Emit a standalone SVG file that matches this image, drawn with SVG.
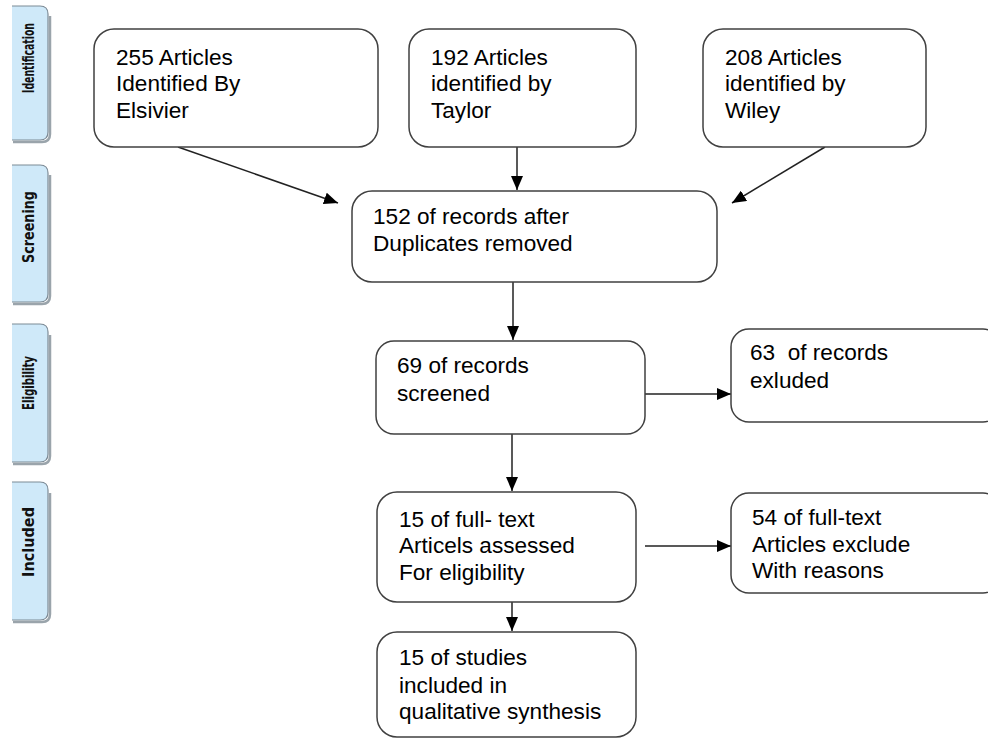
<svg xmlns="http://www.w3.org/2000/svg" width="988" height="738" viewBox="0 0 988 738">
<style>
.box{fill:#fff;stroke:#404040;stroke-width:1.5}
.t{font-family:"Liberation Sans",Arial,sans-serif;font-size:22.6px;fill:#000}
.tab{fill:#cfe9f9;stroke:#7d8b96;stroke-width:1.2}
.tabsh{fill:none;stroke:#9aa4ab;stroke-width:2.5}
.tl{font-family:"Liberation Sans Narrow","DejaVu Sans Condensed","Liberation Sans",sans-serif;font-weight:bold;font-size:16px;fill:#111}
.c{stroke:#222;stroke-width:1.5;fill:none;marker-end:url(#ah)}
</style>
<defs>
<marker id="ah" markerUnits="userSpaceOnUse" markerWidth="14" markerHeight="12" viewBox="0 0 14 12" refX="14" refY="6" orient="auto">
<path d="M0,0 L14,6 L0,12 z" fill="#000"/>
</marker>
</defs>
<rect width="988" height="738" fill="#fff"/>

<g id="tab-identification">
<path class="tabsh" d="M13,142 H42 Q50,142 50,134 V16"/>
<path class="tab" d="M12,6 H40 Q48,6 48,14 V132 Q48,140 40,140 H12"/>
<text class="tl" transform="translate(34,58) rotate(-90)" text-anchor="middle" textLength="70" lengthAdjust="spacingAndGlyphs">Identification</text>
</g>
<g id="tab-screening">
<path class="tabsh" d="M13,304 H42 Q50,304 50,296 V175"/>
<path class="tab" d="M12,165 H40 Q48,165 48,173 V294 Q48,302 40,302 H12"/>
<text class="tl" transform="translate(34,227) rotate(-90)" text-anchor="middle" textLength="72" lengthAdjust="spacingAndGlyphs">Screening</text>
</g>
<g id="tab-eligibility">
<path class="tabsh" d="M13,464 H42 Q50,464 50,456 V335"/>
<path class="tab" d="M12,324 H40 Q48,324 48,332 V454 Q48,462 40,462 H12"/>
<text class="tl" transform="translate(34,383) rotate(-90)" text-anchor="middle" textLength="54" lengthAdjust="spacingAndGlyphs">Eligibility</text>
</g>
<g id="tab-included">
<path class="tabsh" d="M13,622 H42 Q50,622 50,614 V493"/>
<path class="tab" d="M12,482 H40 Q48,482 48,490 V612 Q48,620 40,620 H12"/>
<text class="tl" transform="translate(34,542) rotate(-90)" text-anchor="middle" textLength="70" lengthAdjust="spacingAndGlyphs">Included</text>
</g>

<g id="connectors">
<line class="c" x1="178" y1="147" x2="338" y2="203"/>
<line class="c" x1="517" y1="147" x2="517" y2="190"/>
<line class="c" x1="825" y1="147" x2="732" y2="203"/>
<line class="c" x1="513" y1="282" x2="513" y2="340"/>
<line class="c" x1="645" y1="394" x2="731" y2="394"/>
<line class="c" x1="512" y1="434" x2="512" y2="491"/>
<line class="c" x1="645" y1="546" x2="731" y2="546"/>
<line class="c" x1="512" y1="602" x2="512" y2="631"/>
</g>

<g id="n-elsevier">
<rect class="box" x="94" y="29" width="284" height="118" rx="20"/>
<text class="t" x="116" y="65">255 Articles</text>
<text class="t" x="116" y="91">Identified By</text>
<text class="t" x="116" y="118">Elsivier</text>
</g>
<g id="n-taylor">
<rect class="box" x="409" y="29" width="227" height="118" rx="20"/>
<text class="t" x="431" y="65">192 Articles</text>
<text class="t" x="431" y="91">identified by</text>
<text class="t" x="431" y="118">Taylor</text>
</g>
<g id="n-wiley">
<rect class="box" x="703" y="29" width="223" height="118" rx="20"/>
<text class="t" x="725" y="65">208 Articles</text>
<text class="t" x="725" y="91">identified by</text>
<text class="t" x="725" y="118">Wiley</text>
</g>
<g id="n-duplicates">
<rect class="box" x="352" y="191" width="365" height="91" rx="20"/>
<text class="t" x="373" y="224">152 of records after</text>
<text class="t" x="373" y="251">Duplicates removed</text>
</g>
<g id="n-screened">
<rect class="box" x="376" y="341" width="269" height="93" rx="18"/>
<text class="t" x="397" y="373">69 of records</text>
<text class="t" x="397" y="401">screened</text>
</g>
<g id="n-excluded">
<rect class="box" x="731" y="329" width="270" height="93" rx="18"/>
<text class="t" x="750" y="360" xml:space="preserve">63  of records</text>
<text class="t" x="750" y="388">exluded</text>
</g>
<g id="n-fulltext">
<rect class="box" x="377" y="492" width="259" height="110" rx="20"/>
<text class="t" x="399" y="527">15 of full- text</text>
<text class="t" x="399" y="553">Articels assessed</text>
<text class="t" x="399" y="580">For eligibility</text>
</g>
<g id="n-excluded-reasons">
<rect class="box" x="731" y="493" width="270" height="100" rx="18"/>
<text class="t" x="752" y="525">54 of full-text</text>
<text class="t" x="752" y="552">Articles exclude</text>
<text class="t" x="752" y="578">With reasons</text>
</g>
<g id="n-included">
<rect class="box" x="377" y="632" width="259" height="105" rx="20"/>
<text class="t" x="399" y="665">15 of studies</text>
<text class="t" x="399" y="693">included in</text>
<text class="t" x="399" y="719">qualitative synthesis</text>
</g>
</svg>
